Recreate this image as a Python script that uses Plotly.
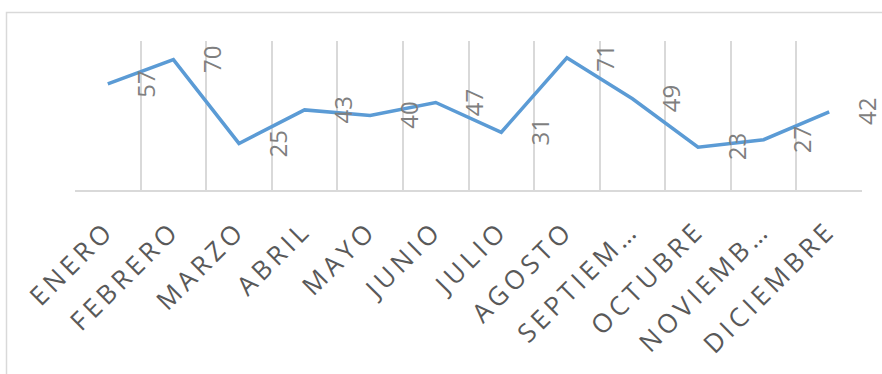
import plotly.graph_objects as go

# Monthly series
months = ["ENERO", "FEBRERO", "MARZO", "ABRIL", "MAYO", "JUNIO",
          "JULIO", "AGOSTO", "SEPTIEMBRE", "OCTUBRE", "NOVIEMBRE", "DICIEMBRE"]
tick_labels = ["ENERO", "FEBRERO", "MARZO", "ABRIL", "MAYO", "JUNIO",
               "JULIO", "AGOSTO", "SEPTIEM…", "OCTUBRE", "NOVIEMB…", "DICIEMBRE"]
values = [57, 70, 25, 43, 40, 47, 31, 71, 49, 23, 27, 42]

x_pos = list(range(len(months)))
GAP = "\u2006"  # six-per-em space for the letter-spaced axis labels
spaced_ticks = [GAP.join(lbl) for lbl in tick_labels]

W, H = 882, 374
M_L, M_R, M_T, M_B = 75, 20, 41, 184

fig = go.Figure()
fig.add_trace(go.Scatter(
    x=x_pos, y=values, mode="lines",
    line=dict(color="#5b9bd5", width=3.5),
    hoverinfo="skip", showlegend=False,
    text=months,
))

# Rotated value labels beside each point
for xi, v in zip(x_pos, values):
    fig.add_annotation(
        x=xi, y=v, text=str(v), showarrow=False,
        xshift=38, textangle=-90,
        xanchor="center", yanchor="middle",
        font=dict(family="Open Sans", size=24, color="#7f7f7f"),
    )

plot_w = W - M_L - M_R
plot_h = H - M_T - M_B
# Outer chart frame (extends past the right and bottom edges)
fig.add_shape(
    type="rect", xref="paper", yref="paper",
    x0=(6.5 - M_L) / plot_w, x1=1.3,
    y0=-2.0, y1=(M_T + plot_h - 12.5) / plot_h,
    line=dict(color="#d9d9d9", width=1.5), fillcolor="rgba(0,0,0,0)",
    layer="below",
)

fig.update_layout(
    width=W, height=H,
    margin=dict(l=M_L, r=M_R, t=M_T, b=M_B),
    paper_bgcolor="white", plot_bgcolor="white",
    xaxis=dict(
        range=[-0.5, 11.5],
        tickmode="array", tickvals=x_pos, ticktext=spaced_ticks,
        tickangle=-45,
        tickfont=dict(family="Open Sans", size=26, color="#595959"),
        ticks="", showgrid=False, zeroline=False,
        showline=True, linecolor="#d9d9d9", linewidth=1.5,
        ticklabelstandoff=16, ticklabelshift=-4,
        minor=dict(tick0=-0.5, dtick=1, showgrid=True,
                   gridcolor="#d9d9d9", gridwidth=1.5, ticks=""),
    ),
    yaxis=dict(
        range=[0, 80], visible=False, showgrid=False, zeroline=False,
    ),
)

fig.write_html("out.html")
